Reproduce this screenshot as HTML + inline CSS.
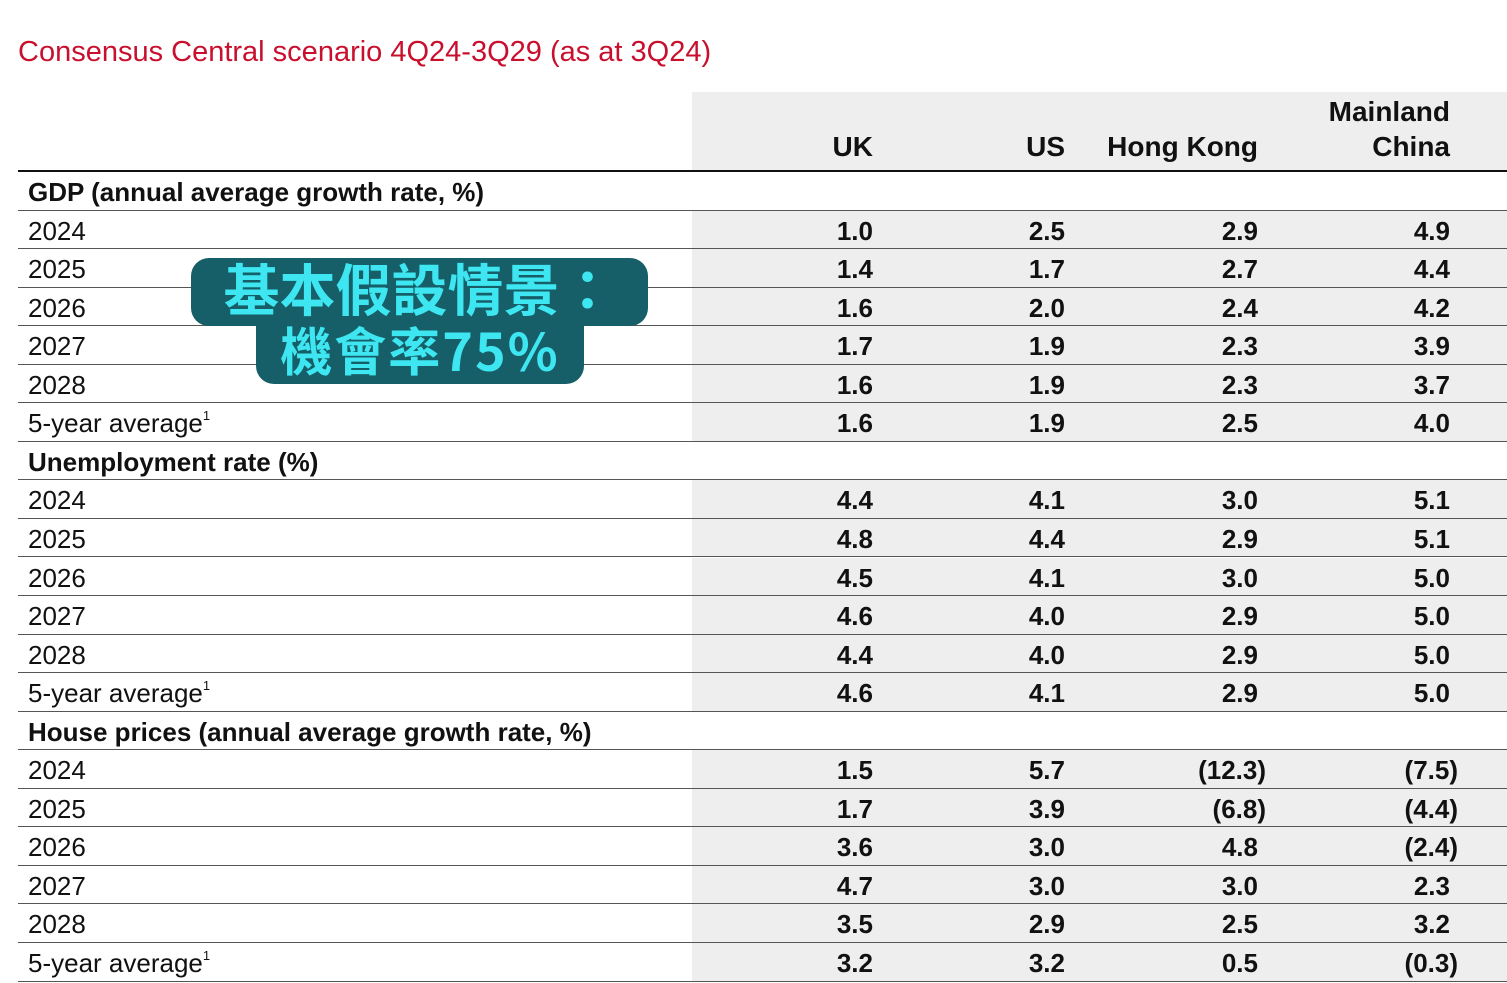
<!DOCTYPE html>
<html><head><meta charset="utf-8"><style>
body{margin:0;width:1507px;height:981px;background:#fff;position:relative;overflow:hidden;font-family:"Liberation Sans",Arial,sans-serif;}
.abs{position:absolute;}
.title{left:18px;top:36px;font-size:29px;color:#c8102e;white-space:nowrap;}
.hdrbg{left:692px;top:92px;width:815px;height:79px;background:#eeeeee;}
.hdr{font-weight:bold;font-size:28px;color:#111;text-align:right;line-height:35px;}
.row{left:18px;width:1489px;height:38.55px;border-bottom:1.5px solid #555;box-sizing:border-box;}
.gray{position:absolute;left:674px;top:0;width:815px;height:100%;background:#eeeeee;}
.lbl{position:absolute;left:10px;top:0;line-height:40px;font-size:26px;color:#111;white-space:nowrap;}
.sec{font-weight:bold;}
.val{position:absolute;top:0;line-height:40px;font-size:26px;font-weight:bold;color:#111;text-align:right;width:120px;}
sup{font-size:13px;vertical-align:12px;line-height:0;}
.ov{background:#175f68;color:#3de6f0;font-family:"Noto Sans CJK TC","Noto Sans CJK SC",sans-serif;font-weight:bold;text-align:center;}
</style></head><body>
<div class="abs title">Consensus Central scenario 4Q24-3Q29 (as at 3Q24)</div>
<div class="abs hdrbg"></div>
<div class="abs hdr" style="left:753px;top:129px;width:120px">UK</div>
<div class="abs hdr" style="left:945px;top:129px;width:120px">US</div>
<div class="abs hdr" style="left:1058px;top:129px;width:200px">Hong Kong</div>
<div class="abs hdr" style="left:1250px;top:94px;width:200px">Mainland<br>China</div>
<div class="abs" style="left:18px;top:170px;width:1489px;height:2px;background:#111"></div>
<div id="tbl"></div>
<div class="abs ov" style="left:191px;top:258px;width:457px;height:68px;border-radius:18px;font-size:56px;line-height:60px;">基本假設情景：</div>
<div class="abs ov" style="left:256px;top:318px;width:328px;height:66px;border-radius:0 0 18px 18px;font-size:52px;line-height:62px;letter-spacing:2px">機會率75%</div>
<script>
const sections=["GDP (annual average growth rate, %)","Unemployment rate (%)","House prices (annual average growth rate, %)"];
const rowLabels=["2024","2025","2026","2027","2028","5-year average"];
const ukVals=[["1.0","1.4","1.6","1.7","1.6","1.6"],["4.4","4.8","4.5","4.6","4.4","4.6"],["1.5","1.7","3.6","4.7","3.5","3.2"]];
const usVals=[["2.5","1.7","2.0","1.9","1.9","1.9"],["4.1","4.4","4.1","4.0","4.0","4.1"],["5.7","3.9","3.0","3.0","2.9","3.2"]];
const hkVals=[["2.9","2.7","2.4","2.3","2.3","2.5"],["3.0","2.9","3.0","2.9","2.9","2.9"],["(12.3)","(6.8)","4.8","3.0","2.5","0.5"]];
const cnVals=[["4.9","4.4","4.2","3.9","3.7","4.0"],["5.1","5.1","5.0","5.0","5.0","5.0"],["(7.5)","(4.4)","(2.4)","2.3","3.2","(0.3)"]];
const colRight=[873,1065,1258,1450];
const tbl=document.getElementById('tbl');
let y=172,h=38.55;
sections.forEach((s,si)=>{
  const r=document.createElement('div');r.className='abs row';r.style.top=y+'px';
  
  
  r.innerHTML='<div class="lbl sec">'+s+'</div>';tbl.appendChild(r);y+=h;
  rowLabels.forEach((l,ri)=>{
    const d=document.createElement('div');d.className='abs row';d.style.top=y+'px';
    
    
    let html='<div class="gray"></div><div class="lbl">'+l+(ri==5?'<sup>1</sup>':'')+'</div>';
    [ukVals,usVals,hkVals,cnVals].forEach((arr,ci)=>{
      const v=arr[si][ri];const off=v.endsWith(')')?8:0;
      html+='<div class="val" style="left:'+(colRight[ci]+off-120-18)+'px">'+v+'</div>';
    });
    d.innerHTML=html;tbl.appendChild(d);y+=h;
  });
});
</script>
</body></html>
